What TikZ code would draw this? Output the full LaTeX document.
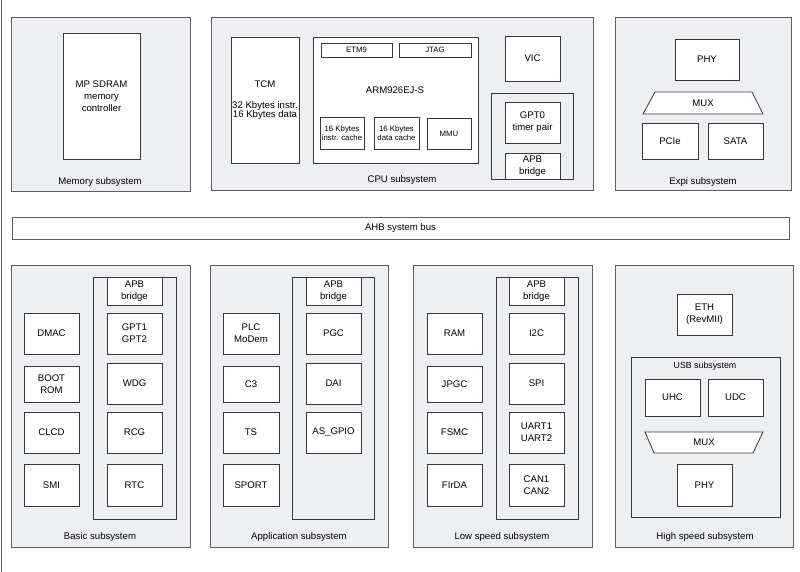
\documentclass[tikz,border=0pt]{standalone}
\usepackage{fontspec}
\setmainfont{Liberation Sans}
\definecolor{subfill}{RGB}{238,239,243}
\definecolor{frame}{RGB}{95,95,95}
\definecolor{edge}{RGB}{55,55,55}
\tikzset{subsys/.style={draw=frame,fill=subfill,line width=0.9pt,inner sep=0pt},
         grp/.style={draw=edge,fill=subfill,line width=0.8pt,inner sep=0pt},
         blk/.style={draw=edge,fill=white,line width=0.8pt,align=center,inner sep=0pt},
         dims/.style 2 args={minimum width=#1pt,minimum height=#2pt},
         muxline/.style={draw=edge,fill=white,line width=0.8pt,line join=miter},
         small/.style={font=\fontsize{7.8}{9.5}\selectfont}}

\begin{document}
\begin{tikzpicture}[x=1pt,y=-1pt,font=\fontsize{9.6}{12}\selectfont]
  % pixel grid of the block diagram, y running down
  \useasboundingbox (0,0) rectangle (800,572);
  \draw[frame,line width=1.2pt] (1.5,0) -- (1.5,572);
  % top row
  \begin{scope}
    \node[subsys,dims={179}{174}] (memsys) at (100.5,104) {};
    \node[blk,dims={77}{126}] (sdram) at (101.5,96) {MP SDRAM\\memory\\controller};
    \node (memlbl) at (100,182) {Memory subsystem};
  \end{scope}
  \begin{scope}
    \node[subsys,dims={382}{173}] (cpusys) at (402,103.5) {};
    \node[blk,dims={68}{126}] (tcm) at (265,100) {TCM\\[9pt]32 Kbytes instr.\\[-2.5pt]16 Kbytes data};
    \node[blk,dims={165}{126}] (arm) at (395.5,100) {};
    \node (armlbl) at (395,90) {ARM926EJ-S};
    \node[blk,small,dims={71}{14}] (etm) at (356.5,50) {ETM9};
    \node[blk,small,dims={72}{14}] (jtag) at (435,50) {JTAG};
    \node[blk,small,dims={44}{32}] (icache) at (342,133) {16 Kbytes\\instr. cache};
    \node[blk,small,dims={45}{32}] (dcache) at (396.5,133) {16 Kbytes\\data cache};
    \node[blk,small,dims={44}{31}] (mmu) at (449,133.5) {MMU};
    \node[blk,dims={55}{45}] (vic) at (532.5,58.5) {VIC};
    \node[grp,dims={82}{86}] (cpuapb) at (532,136) {};
    \node[blk,dims={55}{41}] (gpt0) at (532.5,122.5) {GPT0\\timer pair};
    \node[blk,dims={55}{26}] (cpubridge) at (532.5,166) {APB\\bridge};
    \node (cpulbl) at (402,180) {CPU subsystem};
  \end{scope}
  \begin{scope}
    \node[subsys,dims={176}{173}] (expisys) at (703,103.5) {};
    \node[blk,dims={64}{41}] (expiphy) at (707,59.5) {PHY};
    \draw[muxline] (643,114) -- (655,92) -- (752,92) -- (763,114) -- cycle;
    \node (expimux) at (703,103) {MUX};
    \node[blk,dims={56}{36}] (pcie) at (670,141) {PCIe};
    \node[blk,dims={55}{36}] (sata) at (735.5,141) {SATA};
    \node (expilbl) at (703,182) {Expi subsystem};
  \end{scope}
  % bus
  \node[blk,dims={777}{22},draw=frame] (ahb) at (400.5,228) {AHB system bus};
  % bottom row
  \begin{scope}
    \node[subsys,dims={179}{282}] (basicsys) at (100.5,406) {};
    \node[grp,dims={83}{242}] (basicapb) at (134.5,398) {};
    \node[blk,dims={55}{28}] (basicbridge) at (134.5,291) {APB\\bridge};
    \node[blk,dims={55}{41}] (gpt) at (134.5,333.5) {GPT1\\GPT2};
    \node[blk,dims={55}{41}] (wdg) at (134.5,383.5) {WDG};
    \node[blk,dims={55}{41}] (rcg) at (134.5,432.5) {RCG};
    \node[blk,dims={55}{42}] (rtc) at (134.5,485) {RTC};
    \node[blk,dims={55}{41}] (dmac) at (51.5,333.5) {DMAC};
    \node[blk,dims={55}{36}] (boot) at (51.5,384) {BOOT\\ROM};
    \node[blk,dims={55}{41}] (clcd) at (51.5,432.5) {CLCD};
    \node[blk,dims={55}{42}] (smi) at (51.5,485) {SMI};
    \node (basiclbl) at (100,537) {Basic subsystem};
  \end{scope}
  \begin{scope}
    \node[subsys,dims={178}{282}] (appsys) at (299,406) {};
    \node[grp,dims={82}{242}] (appapb) at (333,398) {};
    \node[blk,dims={55}{28}] (appbridge) at (333.5,291) {APB\\bridge};
    \node[blk,dims={55}{41}] (pgc) at (333.5,333.5) {PGC};
    \node[blk,dims={55}{41}] (dai) at (333.5,383.5) {DAI};
    \node[blk,dims={55}{41}] (asgpio) at (333.5,432.5) {AS\_GPIO};
    \node[blk,dims={56}{41}] (plc) at (251,333.5) {PLC\\MoDem};
    \node[blk,dims={56}{36}] (cthree) at (251,384) {C3};
    \node[blk,dims={56}{41}] (ts) at (251,432.5) {TS};
    \node[blk,dims={56}{42}] (sport) at (251,485) {SPORT};
    \node (applbl) at (299,537) {Application subsystem};
  \end{scope}
  \begin{scope}
    \node[subsys,dims={179}{282}] (lowsys) at (502.5,406) {};
    \node[grp,dims={82}{242}] (lowapb) at (537,398) {};
    \node[blk,dims={55}{28}] (lowbridge) at (536.5,291) {APB\\bridge};
    \node[blk,dims={55}{41}] (itwoc) at (536.5,333.5) {I2C};
    \node[blk,dims={55}{41}] (spi) at (536.5,383.5) {SPI};
    \node[blk,dims={55}{41}] (uart) at (536.5,432.5) {UART1\\UART2};
    \node[blk,dims={55}{42}] (can) at (536.5,485) {CAN1\\CAN2};
    \node[blk,dims={55}{41}] (ram) at (454.5,333.5) {RAM};
    \node[blk,dims={55}{36}] (jpgc) at (454.5,384) {JPGC};
    \node[blk,dims={55}{41}] (fsmc) at (454.5,432.5) {FSMC};
    \node[blk,dims={55}{42}] (firda) at (454.5,485) {FIrDA};
    \node (lowlbl) at (502,537) {Low speed subsystem};
  \end{scope}
  \begin{scope}
    \node[subsys,dims={178}{282}] (highsys) at (704,406) {};
    \node[blk,dims={55}{41}] (eth) at (704.5,314.5) {ETH\\(RevMII)};
    \node[grp,dims={149}{160}] (usbsys) at (705.5,437) {};
    \node[font=\fontsize{8.8}{10}\selectfont] (usblbl) at (705,366) {USB subsystem};
    \node[blk,dims={55}{37}] (uhc) at (672.5,397.5) {UHC};
    \node[blk,dims={55}{37}] (udc) at (735.5,397.5) {UDC};
    \draw[muxline] (645,432) -- (763,432) -- (753,453) -- (654,453) -- cycle;
    \node (usbmux) at (704,442.5) {MUX};
    \node[blk,dims={55}{42}] (usbphy) at (704.5,485) {PHY};
    \node (highlbl) at (705,537) {High speed subsystem};
  \end{scope}
\end{tikzpicture}
\end{document}
